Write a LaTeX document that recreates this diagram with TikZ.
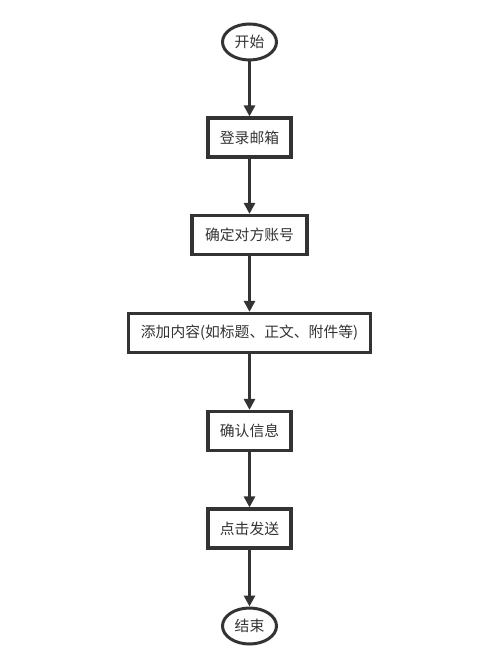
\documentclass[tikz,border=0pt]{standalone}
\usepackage{fontspec}
\newfontfamily\cjk{Noto Sans CJK SC}
\usetikzlibrary{shapes.geometric,arrows.meta}
\definecolor{ink}{HTML}{333333}
\begin{document}
\begin{tikzpicture}[x=1pt,y=-1pt,
  every node/.style={font=\cjk\fontsize{14.8}{17}\selectfont, text=ink},
  term/.style={ellipse, draw=ink, line width=3pt, minimum width=54pt, minimum height=36pt, inner sep=0pt},
  stepbox/.style={rectangle, draw=ink, line width=3.2pt, minimum height=39pt, inner xsep=6pt},
  flow/.style={draw=ink, line width=3pt, -{Triangle[length=11pt,width=11pt]}}]
\useasboundingbox (0,0) rectangle (500,671);
\node[term] (s) at (249.5,42) {开始};
\node[stepbox, minimum width=83pt] (a) at (249.5,137.5) {登录邮箱};
\node[stepbox, minimum width=115pt] (b) at (249.5,235) {确定对方账号};
\node[stepbox, minimum width=242pt] (c) at (249.5,333) {添加内容(如标题、正文、附件等)};
\node[stepbox, minimum width=83pt] (d) at (249.5,431) {确认信息};
\node[stepbox, minimum width=83pt] (e) at (249.5,528.5) {点击发送};
\node[term] (t) at (249.5,626) {结束};
\draw[flow] (s) -- (a);
\draw[flow] (a) -- (b);
\draw[flow] (b) -- (c);
\draw[flow] (c) -- (d);
\draw[flow] (d) -- (e);
\draw[flow] (e) -- (t);
\end{tikzpicture}
\end{document}
